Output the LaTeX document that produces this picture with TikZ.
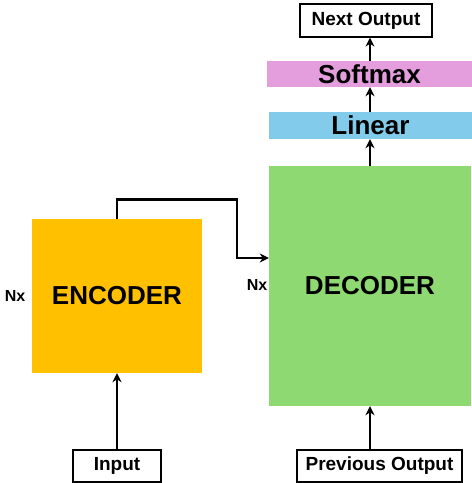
\documentclass[tikz,border=0pt]{standalone}
\usepackage{fontspec}
\setmainfont{Liberation Sans}
\usetikzlibrary{arrows.meta}
\definecolor{encfill}{HTML}{FFC000}
\definecolor{decfill}{HTML}{8FD973}
\definecolor{linfill}{HTML}{83CBEB}
\definecolor{smfill}{HTML}{E49EDD}
\begin{document}
\begin{tikzpicture}[x=1pt, y=1pt,
  >={Stealth[length=9pt,width=9pt]},
  arr/.style={->, line width=2.6pt},
  block/.style={inner sep=0pt, font=\bfseries\fontsize{26}{26}\selectfont},
  iobox/.style={draw, line width=1.2pt, fill=white, inner sep=0pt, minimum height=32pt,
    font=\bfseries\fontsize{19}{19}\selectfont},
  nx/.style={font=\bfseries\fontsize{16}{16}\selectfont}]
  \useasboundingbox (0,0) rectangle (472,483);
  % blocks
  \node[block, fill=encfill, minimum width=170pt, minimum height=154pt] (encoder) at (117,187) {ENCODER};
  \node[block, fill=decfill, minimum width=202pt, minimum height=240pt] (decoder) at (370,197) {DECODER};
  \node[block, fill=linfill, minimum width=203pt, minimum height=27pt] (linear) at (370.5,357.5) {Linear};
  \node[block, fill=smfill, minimum width=205pt, minimum height=26pt] (softmax) at (369.5,409) {Softmax};
  % inputs / output
  \node[iobox, minimum width=132pt, minimum height=33pt] (nextout) at (366,462.5) {Next Output};
  \node[iobox, minimum width=88pt] (input) at (117,17) {Input};
  \node[iobox, minimum width=165pt] (prevout) at (379.5,17) {Previous Output};
  % Nx
  \node[nx] (nxenc) at (15,187) {Nx};
  \node[nx] (nxdec) at (257,198) {Nx};
  % connectors
  \draw[arr] (input) -- (encoder);
  \draw[arr] (decoder.south |- prevout.north) -- (decoder.south);
  \draw[arr] (decoder.north) -- (decoder.north |- linear.south);
  \draw[arr] (decoder.north |- linear.north) -- (decoder.north |- softmax.south);
  \draw[arr] (decoder.north |- softmax.north) -- (decoder.north |- nextout.south);
  \coordinate (hop) at (237,225);
  \draw[arr] (encoder.north) -- ++(0,19) -| (hop) -- (decoder.west |- hop);
\end{tikzpicture}
\end{document}
